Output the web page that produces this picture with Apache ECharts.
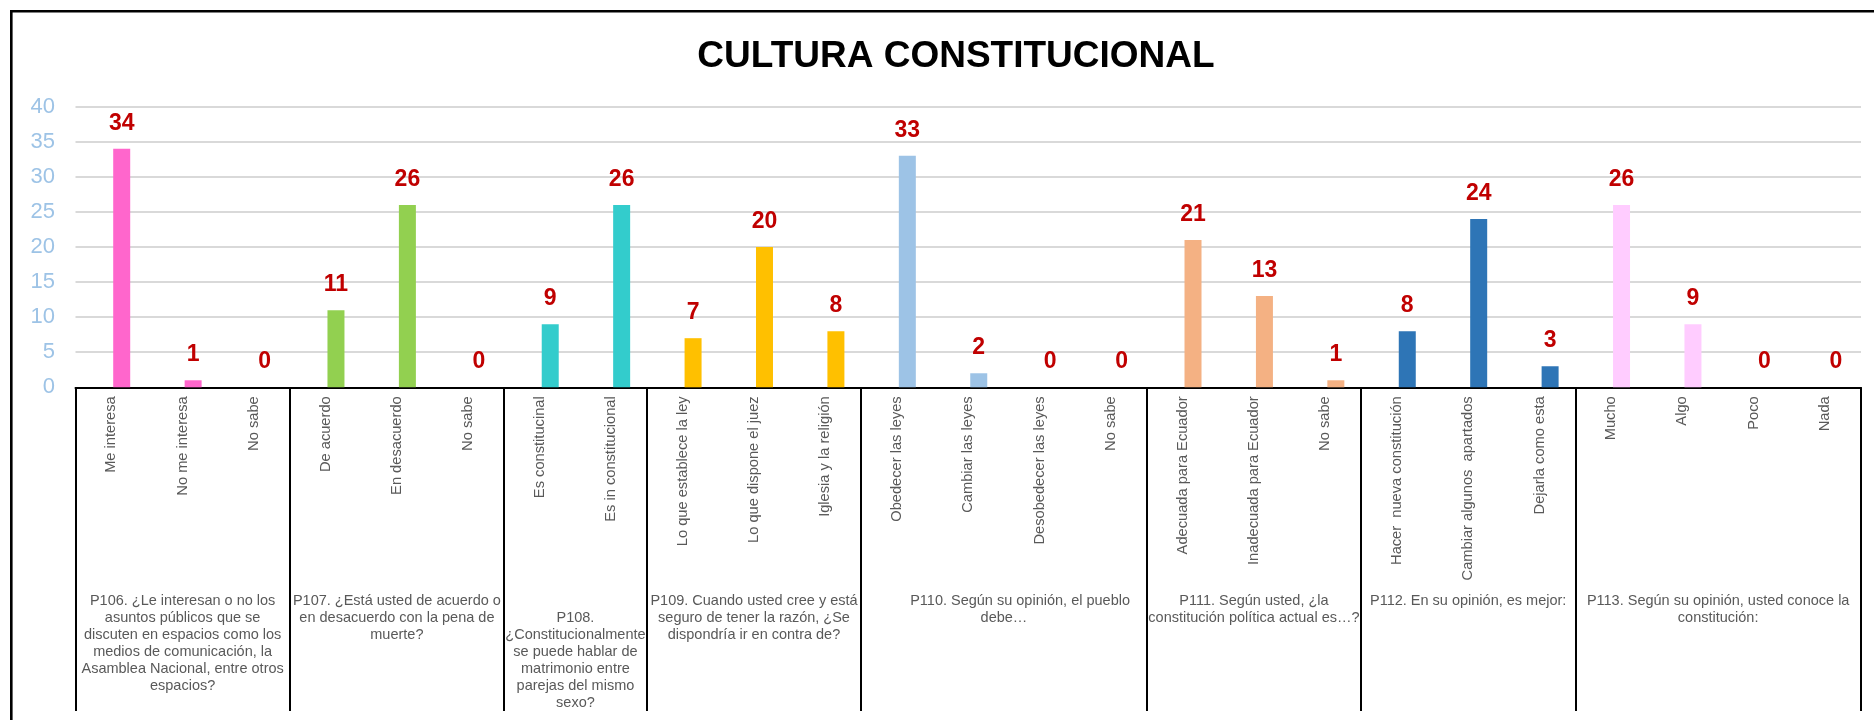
<!DOCTYPE html>
<html>
<head>
<meta charset="utf-8">
<script src="https://cdn.jsdelivr.net/npm/echarts@6/dist/echarts.min.js"></script>
<style>
html,body{margin:0;padding:0;background:#fff;}
#c{width:1874px;height:720px;}
</style>
</head>
<body>
<div id="c"></div>
<script>
const chartTitle = 'CULTURA CONSTITUCIONAL';

const categories = [
  'Me interesa', 'No me interesa', 'No sabe',
  'De acuerdo', 'En desacuerdo', 'No sabe',
  'Es constitucinal', 'Es in constitucional',
  'Lo que establece la ley', 'Lo que dispone el juez', 'Iglesia y la religión',
  'Obedecer las leyes', 'Cambiar las leyes', 'Desobedecer las leyes', 'No sabe',
  'Adecuada para Ecuador', 'Inadecuada para Ecuador', 'No sabe',
  'Hacer  nueva constitución', 'Cambiar algunos  apartados', 'Dejarla como esta',
  'Mucho', 'Algo', 'Poco', 'Nada'
];

const values = [
  34, 1, 0,
  11, 26, 0,
  9, 26,
  7, 20, 8,
  33, 2, 0, 0,
  21, 13, 1,
  8, 24, 3,
  26, 9, 0, 0
];

const groupSizes = [3, 3, 2, 3, 4, 3, 3, 4];

const groupLabels = [
  'P106. ¿Le interesan o no los\nasuntos públicos que se\ndiscuten en espacios como los\nmedios de comunicación, la\nAsamblea Nacional, entre otros\nespacios?',
  'P107. ¿Está usted de acuerdo o\nen desacuerdo con la pena de\nmuerte?',
  '\nP108.\n¿Constitucionalmente\nse puede hablar de\nmatrimonio entre\nparejas del mismo\nsexo?',
  'P109. Cuando usted cree y está\nseguro de tener la razón, ¿Se\ndispondría ir en contra de?',
  '        P110. Según su opinión, el pueblo\ndebe…',
  'P111. Según usted, ¿la\nconstitución política actual es…?',
  'P112. En su opinión, es mejor:',
  'P113. Según su opinión, usted conoce la\nconstitución:'
];

const groupColors = ['#FF66CC', '#92D050', '#33CCCC', '#FFC000', '#9DC3E6', '#F4B183', '#2E75B6', '#FFCCFF'];

const yMin = 0, yMax = 40, yStep = 5;

// ---- derived structures ----
const groupStarts = [];
const groupOf = [];
let start = 0;
groupSizes.forEach(function (n, g) {
  groupStarts.push(start);
  for (let i = 0; i < n; i++) groupOf.push(g);
  start += n;
});
const halfLabels = new Array(2 * categories.length + 1).fill('');
groupSizes.forEach(function (n, g) { halfLabels[2 * groupStarts[g] + n] = groupLabels[g]; });
const halfKeys = halfLabels.map(function (_, i) { return 'h' + i; });

const FONT = "'Liberation Sans', Arial, sans-serif";
const PL = 75.5, PR = 13, PT = 106.7, PB = 332.7;
const BAR_SHIFT = 10.5;

const chart = echarts.init(document.getElementById('c'), null, {renderer: 'canvas'});
chart.setOption({
  animation: false,
  backgroundColor: '#ffffff',
  title: {
    text: chartTitle,
    left: 951,
    top: 33,
    textAlign: 'center',
    textStyle: {fontFamily: FONT, fontSize: 37, fontWeight: 'bold', color: '#000000'}
  },
  graphic: [{
    type: 'rect',
    silent: true,
    z: 100,
    shape: {x: 11.3, y: 11.3, width: 1950, height: 800},
    style: {fill: 'none', stroke: '#000000', lineWidth: 2.6}
  }],
  grid: [
    {left: PL, right: PR, top: PT, bottom: PB},
    {left: PL + BAR_SHIFT, right: PR - BAR_SHIFT, top: PT, bottom: PB},
    {left: PL, right: PR, top: 720 - PB, bottom: 9},
    {left: PL, right: PR, top: 720 - PB, bottom: 127.5}
  ],
  xAxis: [
    {
      gridIndex: 0, type: 'category', data: categories,
      axisLine: {show: true, lineStyle: {color: '#000000', width: 2}},
      axisTick: {show: false},
      axisLabel: {interval: 0, rotate: 90, margin: 9, fontSize: 14.67, color: '#595959', fontFamily: FONT},
      splitLine: {show: false}
    },
    {
      gridIndex: 1, type: 'category', data: categories, show: false
    },
    {
      gridIndex: 2, type: 'category', data: categories,
      axisLine: {show: false}, axisTick: {show: false}, axisLabel: {show: false},
      splitLine: {
        show: true,
        interval: function (idx) { return groupStarts.indexOf(idx) >= 0; },
        lineStyle: {color: '#000000', width: 2}
      }
    },
    {
      gridIndex: 3, type: 'category', data: halfKeys, boundaryGap: false,
      axisLine: {show: false}, axisTick: {show: false}, splitLine: {show: false},
      axisLabel: {
        interval: 0, margin: 0, fontSize: 14.5, lineHeight: 17, color: '#595959',
        fontFamily: FONT, align: 'center', verticalAlign: 'top',
        formatter: function (v, i) { return halfLabels[i]; }
      }
    }
  ],
  yAxis: [
    {
      gridIndex: 0, type: 'value', min: yMin, max: yMax, interval: yStep,
      axisLine: {show: false}, axisTick: {show: false},
      axisLabel: {fontSize: 22, color: '#9DC3E6', margin: 20.5, fontFamily: FONT},
      splitLine: {show: true, lineStyle: {color: '#D9D9D9', width: 2}}
    },
    {gridIndex: 1, type: 'value', min: yMin, max: yMax, interval: yStep, show: false},
    {gridIndex: 2, type: 'value', show: false},
    {gridIndex: 3, type: 'value', show: false}
  ],
  series: [{
    type: 'bar',
    xAxisIndex: 1, yAxisIndex: 1,
    barWidth: 17,
    data: values.map(function (v, i) {
      return {value: v, itemStyle: {color: groupColors[groupOf[i]]}};
    }),
    label: {
      show: true, position: 'top', distance: 14,
      color: '#C00000', fontWeight: 'bold', fontSize: 23, fontFamily: FONT
    }
  }]
});
</script>
</body>
</html>
